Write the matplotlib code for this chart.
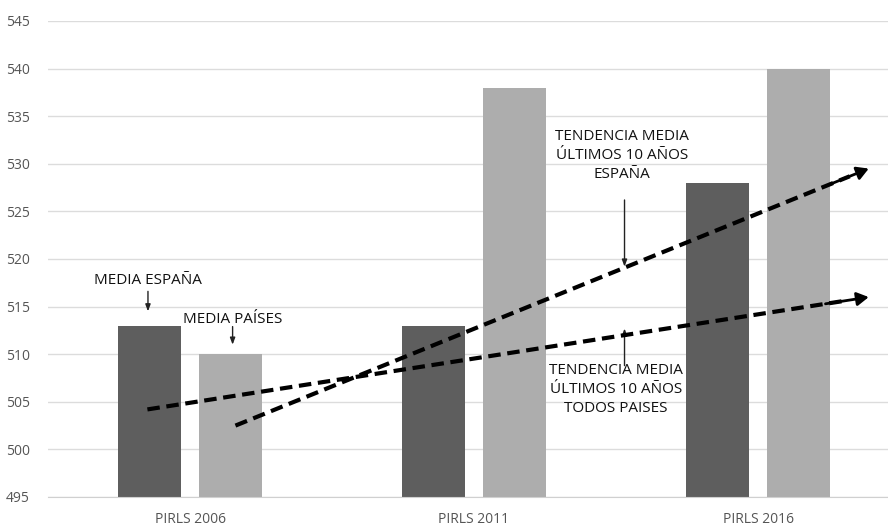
import numpy as np
import matplotlib
matplotlib.use("Agg")
import matplotlib.pyplot as plt

plt.rcParams['font.family'] = ['Liberation Sans Narrow', 'Open Sans', 'DejaVu Sans']

# --- data ---
categories = ["PIRLS 2006", "PIRLS 2011", "PIRLS 2016"]
media_espana = [513, 513, 528]
media_paises = [510, 538, 540]

# trend lines (x in category units, y in score)
trend_espana_x = [0.16, 2.39]
trend_espana_y = [502.5, 529.5]
trend_paises_x = [-0.15, 2.39]
trend_paises_y = [504.2, 516.0]

fig = plt.figure(figsize=(8.88, 5.29), dpi=100)
ax = fig.add_axes([48 / 888, 1 - 497 / 529, 1 - 48 / 888, (497 - 21) / 529])

x = np.arange(len(categories))
w = 0.222
off = 0.141
ax.bar(x - off, [v - 495 for v in media_espana], w, bottom=495, color="#5e5e5e", zorder=2)
ax.bar(x + off, [v - 495 for v in media_paises], w, bottom=495, color="#adadad", zorder=2)

ax.set_ylim(495, 545)
ax.set_xlim(-0.5, -0.5 + 840 / 284)
ax.set_yticks(range(495, 546, 5))
ax.set_xticks(x)
ax.set_xticklabels(categories)
ax.grid(axis="y", color="#dcdcdc", lw=1, zorder=0)
for s in ["top", "right", "left"]:
    ax.spines[s].set_visible(False)
ax.spines["bottom"].set_color("#d0d0d0")
ax.tick_params(length=0, labelsize=10, colors="#555555")
ax.tick_params(axis="x", pad=11)
ax.tick_params(axis="y", pad=13)

# dashed trend arrows
for tx, ty in [(trend_espana_x, trend_espana_y), (trend_paises_x, trend_paises_y)]:
    dx = tx[1] - tx[0]
    dy = ty[1] - ty[0]
    frac = 0.97
    ax.plot([tx[0], tx[0] + dx * frac], [ty[0], ty[0] + dy * frac],
            color="black", lw=3, ls=(0, (3, 1.6)), zorder=4)
    ax.annotate("", xy=(tx[1], ty[1]), xytext=(tx[0] + dx * 0.94, ty[0] + dy * 0.94),
                arrowprops=dict(arrowstyle="-|>,head_length=0.7,head_width=0.4",
                                color="black", lw=2, shrinkA=0, shrinkB=0), zorder=5)

# labels with small arrows
txt = dict(ha="center", va="center", fontsize=11, color="#111111", zorder=6)
arr = dict(arrowstyle="-|>,head_length=0.4,head_width=0.15", color="#222222", lw=1,
           shrinkA=0, shrinkB=0)

ax.text(-0.148, 517.7, "MEDIA ESPAÑA", **txt)
ax.annotate("", xy=(-0.148, 514.5), xytext=(-0.148, 516.6), arrowprops=arr)

ax.text(0.15, 513.6, "MEDIA PAÍSES", **txt)
ax.annotate("", xy=(0.15, 511.0), xytext=(0.15, 512.9), arrowprops=arr)

ax.text(1.52, 530.9, "TENDENCIA MEDIA\nÚLTIMOS 10 AÑOS\nESPAÑA", linespacing=1.35, **txt)
ax.annotate("", xy=(1.53, 519.2), xytext=(1.53, 526.2), arrowprops=arr)

ax.text(1.50, 506.3, "TENDENCIA MEDIA\nÚLTIMOS 10 AÑOS\nTODOS PAISES", linespacing=1.35, **txt)
ax.annotate("", xy=(1.53, 512.7), xytext=(1.53, 508.8), arrowprops=arr)

fig.savefig("out.png", dpi=100)
